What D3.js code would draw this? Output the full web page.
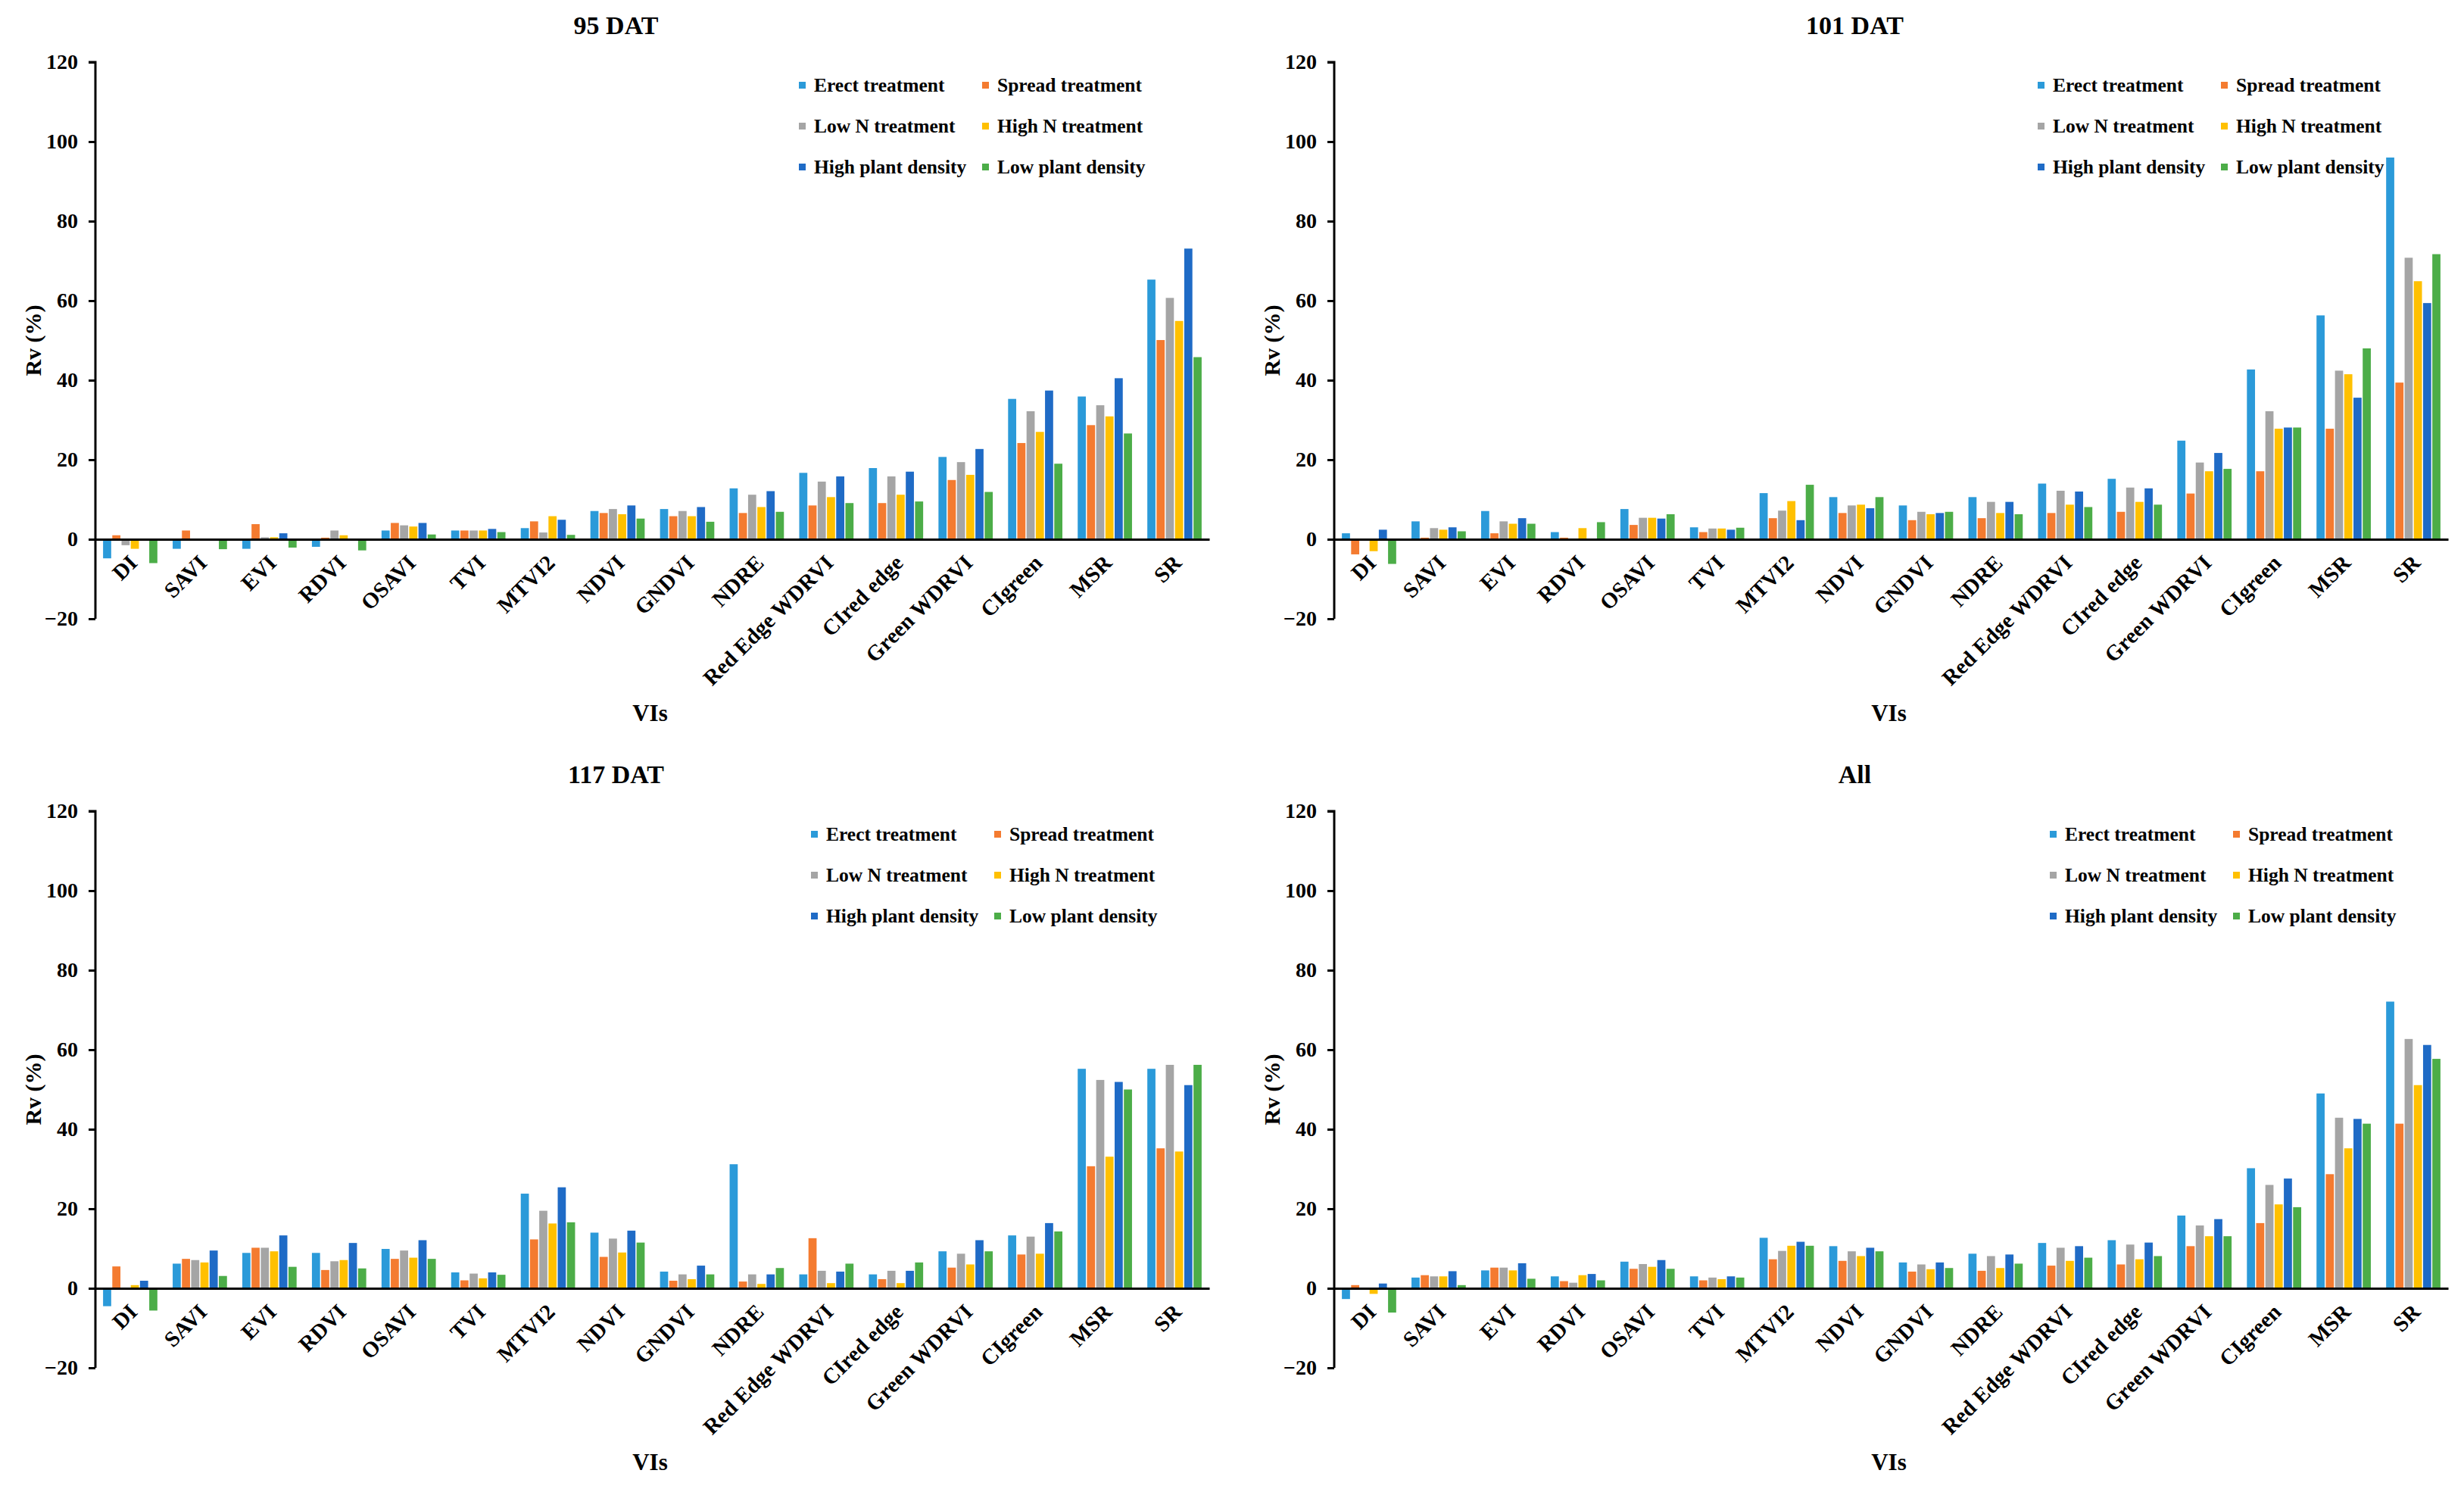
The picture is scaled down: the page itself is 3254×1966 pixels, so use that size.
<!DOCTYPE html>
<html>
<head>
<meta charset="utf-8">
<script src="https://cdn.jsdelivr.net/npm/d3@7"></script>
<style>
  body { margin: 0; background: #fff; }
  text { font-family: "Liberation Serif", "Times New Roman", serif; font-weight: bold; fill: #000; }
</style>
</head>
<body>
<div id="chartContainer"></div>
<script>
var categories = ["DI", "SAVI", "EVI", "RDVI", "OSAVI", "TVI", "MTVI2", "NDVI", "GNDVI", "NDRE",
  "Red Edge WDRVI", "CIred edge", "Green WDRVI", "CIgreen", "MSR", "SR"];
// one value per category, in category order

var seriesNames = ["Erect treatment", "Spread treatment", "Low N treatment",
  "High N treatment", "High plant density", "Low plant density"];
var seriesColors = ["#2B9AD9", "#F47B30", "#A5A5A5", "#FFC000", "#1F6BC6", "#4CAD48"];
var yTicks = [-20, 0, 20, 40, 60, 80, 100, 120];

// 95 DAT
var dat95 = [
  [-4.8, -2.4, -2.4, -1.9, 2.2, 2.2, 2.8, 7.1, 7.6, 12.8, 16.7, 17.9, 20.7, 35.3, 35.9, 65.3],
  [1.0, 2.2, 3.8, 0.4, 4.1, 2.2, 4.5, 6.6, 5.8, 6.6, 8.5, 9.1, 14.9, 24.2, 28.7, 50.1],
  [-1.5, 0.1, 0.5, 2.2, 3.5, 2.2, 1.7, 7.6, 7.1, 11.2, 14.5, 15.8, 19.4, 32.2, 33.7, 60.7],
  [-2.4, 0.1, 0.5, 1.0, 3.2, 2.2, 5.8, 6.3, 5.8, 8.1, 10.6, 11.2, 16.2, 27.0, 30.9, 54.9],
  [-0.2, 0.1, 1.5, 0.1, 4.1, 2.6, 4.9, 8.5, 8.1, 12.1, 15.8, 17.0, 22.7, 37.4, 40.5, 73.1],
  [-6.0, -2.5, -2.1, -2.8, 1.2, 1.8, 1.1, 5.2, 4.4, 6.9, 9.1, 9.5, 11.9, 19.0, 26.6, 45.8]
];
// 101 DAT
var dat101 = [
  [1.5, 4.5, 7.1, 1.8, 7.6, 3.0, 11.6, 10.6, 8.5, 10.6, 14.0, 15.2, 24.8, 42.7, 56.3, 96.0],
  [-3.8, 0.4, 1.5, 0.4, 3.6, 1.8, 5.3, 6.6, 4.8, 5.3, 6.6, 6.9, 11.5, 17.1, 27.8, 39.4],
  [0.1, 2.8, 4.5, 0.1, 5.4, 2.7, 7.2, 8.5, 6.9, 9.4, 12.2, 13.0, 19.3, 32.2, 42.4, 70.8],
  [-3.0, 2.4, 3.9, 2.8, 5.4, 2.7, 9.6, 8.7, 6.3, 6.6, 8.7, 9.4, 17.1, 27.8, 41.5, 64.9],
  [2.4, 3.0, 5.3, -0.3, 5.2, 2.4, 4.8, 7.8, 6.6, 9.4, 12.0, 12.8, 21.7, 28.1, 35.6, 59.4],
  [-6.2, 2.0, 3.9, 4.3, 6.3, 2.9, 13.7, 10.6, 6.9, 6.3, 8.1, 8.7, 17.7, 28.1, 48.0, 71.7]
];
// 117 DAT
var dat117 = [
  [-4.5, 6.2, 8.9, 8.9, 9.9, 4.0, 23.8, 14.0, 4.2, 31.2, 3.5, 3.5, 9.3, 13.3, 55.2, 55.2],
  [5.5, 7.4, 10.2, 4.6, 7.4, 2.0, 12.3, 7.9, 1.9, 1.7, 12.6, 2.3, 5.2, 8.5, 30.7, 35.2],
  [0.1, 7.1, 10.2, 6.8, 9.5, 3.7, 19.5, 12.5, 3.5, 3.5, 4.4, 4.4, 8.7, 13.0, 52.4, 56.2],
  [0.8, 6.5, 9.3, 7.1, 7.7, 2.5, 16.3, 9.0, 2.3, 1.1, 1.3, 1.3, 6.0, 8.7, 33.1, 34.4],
  [1.9, 9.5, 13.3, 11.4, 12.1, 4.0, 25.4, 14.5, 5.7, 3.5, 4.2, 4.4, 12.1, 16.4, 51.9, 51.1],
  [-5.6, 3.1, 5.4, 5.0, 7.4, 3.4, 16.6, 11.5, 3.5, 5.1, 6.2, 6.5, 9.3, 14.3, 50.0, 56.2]
];
// All
var datAll = [
  [-2.7, 2.7, 4.5, 3.0, 6.7, 3.0, 12.7, 10.6, 6.5, 8.7, 11.4, 12.1, 18.3, 30.2, 49.0, 72.1],
  [0.8, 3.3, 5.2, 1.8, 4.9, 2.0, 7.3, 6.9, 4.2, 4.4, 5.7, 6.0, 10.6, 16.4, 28.7, 41.4],
  [0.1, 3.0, 5.2, 1.4, 6.1, 2.7, 9.4, 9.3, 6.0, 8.1, 10.2, 11.0, 15.8, 26.0, 42.9, 62.7],
  [-1.4, 3.0, 4.5, 3.3, 5.4, 2.3, 10.7, 8.1, 4.8, 5.1, 6.9, 7.3, 13.1, 21.1, 35.2, 51.1],
  [1.2, 4.3, 6.3, 3.6, 7.1, 3.0, 11.7, 10.2, 6.5, 8.5, 10.6, 11.5, 17.4, 27.6, 42.6, 61.2],
  [-6.1, 0.8, 2.4, 2.0, 4.9, 2.7, 10.7, 9.3, 5.1, 6.2, 7.7, 8.1, 13.1, 20.4, 41.4, 57.7]
];

var panels = [
  { title: "95 DAT", data: dat95, left: 126, top: 82, legendShift: 0 },
  { title: "101 DAT", data: dat101, left: 1762, top: 82, legendShift: 0 },
  { title: "117 DAT", data: dat117, left: 126, top: 1071, legendShift: 16 },
  { title: "All", data: datAll, left: 1762, top: 1071, legendShift: 16 }
];

var width = 1471;
var height = 735;

var svg = d3.select("#chartContainer")
  .append("svg")
  .attr("width", 3254)
  .attr("height", 1966)
  .style("background", "#fff");

panels.forEach(function(p) {
  drawPanel(p);
});

function drawPanel(p) {
  var g = svg.append("g")
    .attr("transform", "translate(" + p.left + "," + p.top + ")");

  var x0 = d3.scaleBand()
    .domain(categories)
    .range([0, width])
    .paddingInner(0.22)
    .paddingOuter(0.11);

  var x1 = d3.scaleBand()
    .domain(d3.range(seriesNames.length))
    .range([0, x0.bandwidth()])
    .paddingInner(0.12);

  var y = d3.scaleLinear()
    .domain([-20, 120])
    .range([height, 0]);

  // bars
  var groups = g.selectAll(".grp")
    .data(categories)
    .enter()
    .append("g")
    .attr("class", "grp")
    .attr("transform", function(c) { return "translate(" + x0(c) + ",0)"; });

  groups.selectAll("rect")
    .data(function(c, ci) {
      return p.data.map(function(s, si) { return { s: si, v: s[ci] }; });
    })
    .enter()
    .append("rect")
    .attr("x", function(d) { return x1(d.s); })
    .attr("width", x1.bandwidth())
    .attr("y", function(d) { return y(Math.max(0, d.v)); })
    .attr("height", function(d) { return Math.abs(y(d.v) - y(0)); })
    .attr("fill", function(d) { return seriesColors[d.s]; });

  // y axis
  var yAxis = g.append("g")
    .call(d3.axisLeft(y).tickValues(yTicks).tickSize(9).tickPadding(14));
  yAxis.select(".domain").attr("stroke", "#000").attr("stroke-width", 3)
    .attr("d", "M0," + y(-20) + "V" + y(120) + "H-9");
  yAxis.selectAll(".tick line").attr("stroke", "#000").attr("stroke-width", 3);
  yAxis.selectAll(".tick text")
    .style("font-family", "'Liberation Serif', serif")
    .style("font-weight", "bold")
    .style("font-size", "28px")
    .attr("fill", "#000");

  // x axis at zero
  var xAxis = g.append("g")
    .attr("transform", "translate(0," + y(0) + ")")
    .call(d3.axisBottom(x0).tickSize(0).tickPadding(0));
  xAxis.select(".domain").attr("stroke", "#000").attr("stroke-width", 3);
  xAxis.selectAll(".tick text")
    .style("font-family", "'Liberation Serif', serif")
    .style("font-weight", "bold")
    .style("font-size", "29px")
    .attr("fill", "#000")
    .attr("text-anchor", "end")
    .attr("dy", "0")
    .attr("transform", "translate(11,33) rotate(-45)");

  // titles
  g.append("text")
    .attr("x", width / 2 - 48)
    .attr("y", -37)
    .attr("text-anchor", "middle")
    .attr("font-size", "34px")
    .text(p.title);

  g.append("text")
    .attr("x", width / 2 - 3)
    .attr("y", y(0) + 240)
    .attr("text-anchor", "middle")
    .attr("font-size", "31px")
    .text("VIs");

  g.append("text")
    .attr("transform", "translate(-72," + (height / 2) + ") rotate(-90)")
    .attr("text-anchor", "middle")
    .attr("font-size", "30px")
    .text("Rv (%)");

  // legend
  var legend = g.append("g")
    .attr("transform", "translate(" + (929 + p.legendShift) + ",31)");
  var items = legend.selectAll(".item")
    .data(seriesNames)
    .enter()
    .append("g")
    .attr("class", "item")
    .attr("transform", function(d, i) {
      return "translate(" + (i % 2) * 242 + "," + Math.floor(i / 2) * 54 + ")";
    });
  items.append("rect")
    .attr("x", 0)
    .attr("y", -5)
    .attr("width", 9)
    .attr("height", 9)
    .attr("fill", function(d, i) { return seriesColors[i]; });
  items.append("text")
    .attr("x", 20)
    .attr("y", 8)
    .attr("font-size", "25.5px")
    .text(function(d) { return d; });
}
</script>
</body>
</html>
